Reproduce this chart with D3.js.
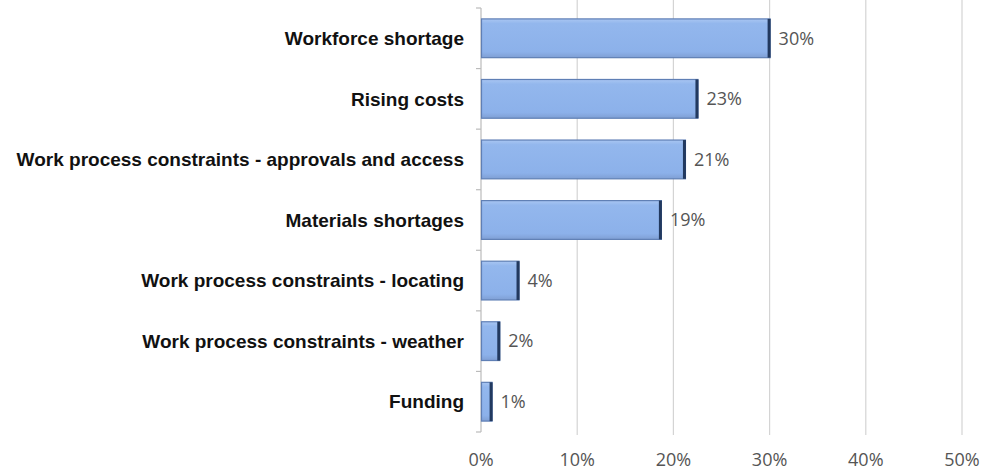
<!DOCTYPE html>
<html lang="en">
<head>
  <meta charset="UTF-8">
  <title>Constraints</title>
  <script src="https://d3js.org/d3.v7.min.js"></script>
  <style>
    body { margin: 0; background: #fff; }
    svg { display: block; }
  </style>
</head>
<body>
  <div id="chart"></div>
  <script>
    const categories = [
      "Workforce shortage",
      "Rising costs",
      "Work process constraints - approvals and access",
      "Materials shortages",
      "Work process constraints - locating",
      "Work process constraints - weather",
      "Funding"
    ];
    const values = [30, 22.5, 21.2, 18.7, 3.9, 1.9, 1.1];
    const valueLabels = ["30%", "23%", "21%", "19%", "4%", "2%", "1%"];
    const xTicks = [0, 10, 20, 30, 40, 50];

    const width = 982, height = 470;
    const margin = { top: 8, right: 20, bottom: 38, left: 481 };

    const svg = d3.select("#chart").append("svg")
      .attr("width", width).attr("height", height);

    const x = d3.scaleLinear().domain([0, 50]).range([margin.left, 962]);
    const y = d3.scaleBand().domain(categories)
      .range([margin.top, height - margin.bottom]).paddingInner(0.36).paddingOuter(0.18);

    const defs = svg.append("defs");
    const grad = defs.append("linearGradient").attr("id", "barfill")
      .attr("x1", 0).attr("x2", 0).attr("y1", 0).attr("y2", 1);
    grad.append("stop").attr("offset", "0%").attr("stop-color", "#a9c6f2");
    grad.append("stop").attr("offset", "12%").attr("stop-color", "#93b7ed");
    grad.append("stop").attr("offset", "85%").attr("stop-color", "#8cb1ea");
    grad.append("stop").attr("offset", "100%").attr("stop-color", "#7f9fd4");

    // gridlines
    svg.append("g").selectAll("line").data(xTicks.slice(1)).join("line")
      .attr("x1", d => x(d)).attr("x2", d => x(d))
      .attr("y1", 0).attr("y2", height - margin.bottom + 3)
      .attr("stroke", "#d4d4d4").attr("stroke-width", 1.2);

    // left axis with ticks between categories
    const axisBottomY = height - margin.bottom;
    svg.append("line")
      .attr("x1", x(0)).attr("x2", x(0))
      .attr("y1", margin.top).attr("y2", axisBottomY)
      .attr("stroke", "#bbb").attr("stroke-width", 1.2);
    const step = y.step();
    const sep = d3.range(categories.length + 1).map(i => margin.top + i * step);
    svg.append("g").selectAll("line").data(sep).join("line")
      .attr("x1", x(0) - 5).attr("x2", x(0))
      .attr("y1", d => d).attr("y2", d => d)
      .attr("stroke", "#bbb").attr("stroke-width", 1.2);

    // bars
    const bars = svg.append("g").selectAll("g").data(categories).join("g");
    bars.append("rect")
      .attr("x", x(0) + 0.5)
      .attr("y", d => y(d))
      .attr("width", (d, i) => x(values[i]) - x(0))
      .attr("height", y.bandwidth())
      .attr("fill", "url(#barfill)")
      .attr("stroke", "#5f7fb5").attr("stroke-width", 1.2);
    bars.append("rect")
      .attr("x", (d, i) => x(values[i]) - 2)
      .attr("y", d => y(d))
      .attr("width", 3)
      .attr("height", y.bandwidth())
      .attr("fill", "#22395f");

    // value labels
    bars.append("text")
      .attr("x", (d, i) => x(values[i]) + 9)
      .attr("y", d => y(d) + y.bandwidth() / 2)
      .attr("dy", "0.35em")
      .attr("font-family", "'Open Sans', sans-serif")
      .attr("font-size", 18)
      .attr("fill", "#555")
      .text((d, i) => valueLabels[i]);

    // category labels
    svg.append("g").selectAll("text").data(categories).join("text")
      .attr("x", 464)
      .attr("y", d => y(d) + y.bandwidth() / 2)
      .attr("dy", "0.35em")
      .attr("text-anchor", "end")
      .attr("font-family", "'Liberation Sans', Arial, sans-serif")
      .attr("font-weight", "bold")
      .attr("font-size", 19)
      .attr("fill", "#111")
      .text(d => d);

    // x tick labels
    svg.append("g").selectAll("text").data(xTicks).join("text")
      .attr("x", d => x(d))
      .attr("y", 460)
      .attr("dy", "0.35em")
      .attr("text-anchor", "middle")
      .attr("font-family", "'Open Sans', sans-serif")
      .attr("font-size", 18)
      .attr("fill", "#555")
      .text(d => d + "%");
  </script>
</body>
</html>
